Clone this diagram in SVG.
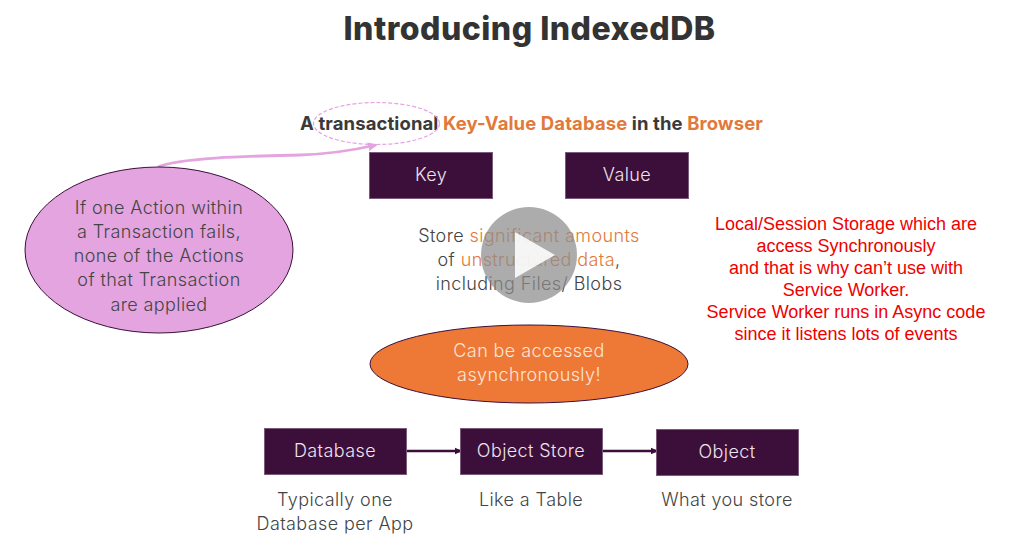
<svg xmlns="http://www.w3.org/2000/svg" width="1025" height="554" viewBox="0 0 1025 554">
<defs>
<marker id="ap" markerWidth="8" markerHeight="8" refX="6.500" refY="4" orient="auto" markerUnits="userSpaceOnUse"><path d="M0 0.500L8 4L0 7.500Z" fill="#3c0f3a"/></marker>
<marker id="apink" markerWidth="10" markerHeight="9" refX="8" refY="4.500" orient="auto" markerUnits="userSpaceOnUse"><path d="M0 0L10 4.500L0 9Z" fill="#e3a4e0"/></marker>
</defs>
<style>
text{font-family:"Inter","Liberation Sans",sans-serif;text-anchor:middle}
.t{font-size:18px;font-weight:300;fill:#444;letter-spacing:.4px}
.w{font-size:18px;font-weight:300;fill:#efe3ee;letter-spacing:.4px}
.b{fill:#3c0f3a;stroke:#7c5a7c;stroke-width:1}
.o{fill:#e2793a}
.r{font-family:"Liberation Sans",sans-serif;font-size:18px;fill:#f00000}
.h{font-size:18.500px;font-weight:700;fill:#3a3a3a;letter-spacing:.1px}
</style>
<rect width="1025" height="554" fill="#fff"/>
<text x="529.500" y="40" style="font-size:32px;font-weight:800;fill:#333;letter-spacing:.5px">Introducing IndexedDB</text>
<text x="531.500" y="130" class="h"><tspan>A transactional </tspan><tspan class="o">Key-Value Database </tspan><tspan>in the </tspan><tspan class="o">Browser</tspan></text>
<g id="connectors">
<path d="M158 167C180 157 260 156 300 155C330 154 350 151 376 145" fill="none" stroke="#e3a4e0" stroke-width="2.800" marker-end="url(#apink)"/>
<path d="M407 451H461" stroke="#3c0f3a" stroke-width="2.500" fill="none" marker-end="url(#ap)"/>
<path d="M603 451H657" stroke="#3c0f3a" stroke-width="2.500" fill="none" marker-end="url(#ap)"/>
</g>
<g id="highlight"><ellipse cx="376.500" cy="123.500" rx="63" ry="21" fill="none" stroke="#e3a4e0" stroke-width="1.200" stroke-dasharray="4 2"/></g>
<g id="note">
<ellipse cx="159" cy="250" rx="134" ry="83" fill="#e3a4e0" stroke="#3c0f3a" stroke-width="1"/>
<text x="159" y="214" class="t">If one Action within</text>
<text x="159" y="238" class="t">a Transaction fails,</text>
<text x="159" y="262" class="t">none of the Actions</text>
<text x="159" y="286" class="t">of that Transaction</text>
<text x="159" y="311" class="t">are applied</text>
</g>
<g id="key"><rect class="b" x="369.500" y="152.500" width="123" height="46"/><text x="431" y="181" class="w">Key</text></g>
<g id="value"><rect class="b" x="565.500" y="152.500" width="123" height="46"/><text x="627" y="181" class="w">Value</text></g>
<g id="store-text">
<text x="529" y="242" class="t">Store <tspan class="o">significant amounts</tspan></text>
<text x="529" y="266" class="t">of <tspan class="o">unstructured data</tspan>,</text>
<text x="529" y="290" class="t">including Files/ Blobs</text>
</g>
<g id="async">
<ellipse cx="529" cy="364" rx="159" ry="39" fill="#ee7836" stroke="#3c0f3a" stroke-width="1"/>
<text x="529" y="357" class="w" style="fill:#fbe6d8">Can be accessed</text>
<text x="529" y="381" class="w" style="fill:#fbe6d8">asynchronously!</text>
</g>
<g id="database"><rect class="b" x="264.500" y="428.500" width="142" height="46"/><text x="335" y="457" class="w">Database</text><text x="335" y="506" class="t">Typically one</text><text x="335" y="530" class="t">Database per App</text></g>
<g id="object-store"><rect class="b" x="460.500" y="428.500" width="142" height="46"/><text x="531" y="457" class="w">Object Store</text><text x="531" y="506" class="t">Like a Table</text></g>
<g id="object"><rect class="b" x="656.500" y="429.500" width="142" height="46"/><text x="727" y="458" class="w">Object</text><text x="727" y="506" class="t">What you store</text></g>
<g id="red-note">
<text x="846" y="230" class="r">Local/Session Storage which are</text>
<text x="846" y="252" class="r">access Synchronously</text>
<text x="846" y="274" class="r">and that is why can’t use with</text>
<text x="846" y="296" class="r">Service Worker.</text>
<text x="846" y="318" class="r">Service Worker runs in Async code</text>
<text x="846" y="340" class="r">since it listens lots of events</text>
</g>
<g id="play">
<circle cx="529" cy="255" r="48" fill="#8c8c8c" fill-opacity=".72"/>
<path d="M515 232L555 255L515 278Z" fill="#fff" fill-opacity=".88"/>
</g>
</svg>
